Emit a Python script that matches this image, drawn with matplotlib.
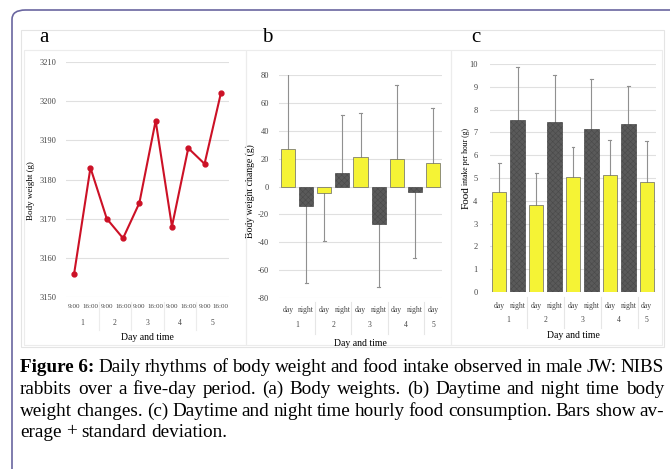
import matplotlib.pyplot as plt
from matplotlib.patches import FancyBboxPatch, Rectangle
import numpy as np

plt.rcParams['font.family'] = ['Liberation Serif', 'DejaVu Serif']
plt.rcParams['hatch.linewidth'] = 0.4
plt.rcParams['axes.unicode_minus'] = False

# data
times = ['9:00', '16:00', '9:00', '16:00', '9:00', '16:00', '9:00', '16:00', '9:00', '16:00']
days = ['1', '2', '3', '4', '5']
body_weight = [3156, 3183, 3170, 3165, 3174, 3195, 3168, 3188, 3184, 3202]

periods = ['day', 'night', 'day', 'night', 'day', 'night', 'day', 'night', 'day']
weight_change = [27, -14, -5, 10, 21, -27, 20, -4, 17]
weight_change_sd = [55, 55, 34, 41, 32, 45, 53, 47, 39]

food_intake = [4.4, 7.55, 3.83, 7.45, 5.05, 7.15, 5.15, 7.35, 4.83]
food_intake_sd = [1.25, 2.3, 1.4, 2.05, 1.3, 2.2, 1.5, 1.7, 1.8]

W, H = 670, 469
fig = plt.figure(figsize=(W / 100, H / 100), dpi=100)
renderer = fig.canvas.get_renderer()


def px_axes(left, top, right, bottom):
    return fig.add_axes([left / W, 1 - bottom / H, (right - left) / W, (bottom - top) / H])


def px(x, y):
    return x / W, 1 - y / H


# outer rounded frame and image borders
fig.patches.append(FancyBboxPatch(px(12, 480), (700 - 12) / W, (480 - 10) / H,
                                  boxstyle='round,pad=0,rounding_size=0.02',
                                  transform=fig.transFigure, fill=False,
                                  edgecolor='#6a66a0', lw=1.2, clip_on=False))
fig.patches.append(Rectangle(px(21, 347), (664 - 21) / W, (347 - 30) / H,
                             transform=fig.transFigure, fill=False, edgecolor='#e4e4e4', lw=0.8))
for l, r in [(24, 246), (246, 451), (451, 662)]:
    fig.patches.append(Rectangle(px(l, 345), (r - l) / W, (345 - 50) / H,
                                 transform=fig.transFigure, fill=False, edgecolor='#ececec', lw=0.8))

for letter, x in [('a', 44), ('b', 267), ('c', 476)]:
    fig.text(*px(x, 38), letter, fontsize=15, ha='center', va='center')

grid_c = '#e0e0e0'
yellow = '#f5f335'
dark = '#5a5a5a'

# ---- panel a
ax1 = px_axes(66, 62, 229, 297)
x1 = np.arange(len(body_weight))
ax1.plot(x1, body_weight, color='#cc1126', lw=1.5, marker='o', ms=3.5)
ax1.set_ylim(3150, 3210)
ax1.set_yticks(range(3150, 3211, 10))
ax1.set_xlim(-0.5, 9.5)
ax1.set_xticks(x1)
ax1.set_xticklabels(times, fontsize=5)
ax1.grid(axis='y', color=grid_c, lw=0.8)
ax1.set_axisbelow(True)
ax1.tick_params(axis='y', labelsize=6, length=0, pad=7, labelcolor='#444')
ax1.tick_params(axis='x', length=0, pad=5, labelcolor='#444')
for s in ax1.spines.values():
    s.set_visible(False)
for i, d in enumerate(days):
    ax1.text(2 * i + 0.5, -0.11, d, transform=ax1.get_xaxis_transform(),
             fontsize=5.5, ha='center', va='center', color='#444')
for xb in [1.5, 3.5, 5.5, 7.5]:
    ax1.plot([xb, xb], [-0.02, -0.14], transform=ax1.get_xaxis_transform(),
             color='#ececec', lw=0.8, clip_on=False)
ax1.set_ylabel('Body weight (g)', fontsize=6.5)
ax1.yaxis.set_label_coords(-0.19, 0.455)
fig.text(*px(147, 338), 'Day and time', fontsize=7, ha='center', va='center')


# ---- panels b and c
def bar_panel(ax, vals, sds, ylim, step, xpad, ypad, num_y):
    xs = np.arange(len(vals))
    cols = [yellow if p == 'day' else dark for p in periods]
    bars = ax.bar(xs, vals, width=0.78, color=cols, edgecolor='#666', lw=0.5, zorder=2)
    for b, p in zip(bars, periods):
        if p == 'night':
            b.set_hatch('xxxxxx')
            b.set_edgecolor('#4a4a4a')
    for x, v, s in zip(xs, vals, sds):
        tip = v + s if v >= 0 else v - s
        ax.plot([x, x], [v, tip], color='#909090', lw=0.8, zorder=1)
        ax.plot([x - 0.08, x + 0.08], [tip, tip], color='#909090', lw=0.8, zorder=1)
    ax.set_ylim(*ylim)
    ax.set_yticks(np.arange(ylim[0], ylim[1] + step / 2, step))
    ax.set_xlim(-0.5, len(vals) - 0.5)
    ax.set_xticks(xs)
    ax.set_xticklabels(periods, fontsize=5.5)
    ax.grid(axis='y', color=grid_c, lw=0.8, zorder=0)
    ax.set_axisbelow(True)
    ax.tick_params(axis='y', labelsize=6, length=0, pad=ypad, labelcolor='#444')
    ax.tick_params(axis='x', length=0, pad=xpad, labelcolor='#444')
    for s in ax.spines.values():
        s.set_visible(False)
    trans = ax.get_xaxis_transform()
    for i, d in enumerate(days):
        xc = 2 * i + 0.5 if i < 4 else 2 * i
        ax.text(xc, num_y, d, transform=trans, fontsize=5.5, ha='center', va='center', color='#444')
    for xb in [1.5, 3.5, 5.5, 7.5]:
        ax.plot([xb, xb], [-0.02, -0.16], transform=trans, color='#e6e6e6', lw=0.8, clip_on=False)


ax2 = px_axes(279, 75, 442, 298)
bar_panel(ax2, weight_change, weight_change_sd, (-80, 80), 20, 6, 7, -0.121)
ax2.set_ylabel('Body weight change (g)', fontsize=7)
ax2.yaxis.set_label_coords(-0.148, 0.48)
fig.text(*px(360, 343), 'Day and time', fontsize=7, ha='center', va='center')

ax3 = px_axes(490, 64, 656, 292)
bar_panel(ax3, food_intake, food_intake_sd, (0, 10), 1, 7.5, 9, -0.123)
fig.text(*px(573, 335), 'Day and time', fontsize=7, ha='center', va='center')
food = fig.text(*px(466, 209), 'Food', fontsize=8, rotation=90, rotation_mode='anchor',
                ha='left', va='center')
food_len = food.get_window_extent(renderer).height
fig.text(*px(466, 209 - food_len - 1.5), 'intake per hour (g)', fontsize=5.5, rotation=90,
         rotation_mode='anchor', ha='left', va='center')

# ---- caption, justified
lines = [
    [('Figure 6:', 'bold'), 'Daily', 'rhythms', 'of', 'body', 'weight', 'and', 'food', 'intake',
     'observed', 'in', 'male', 'JW:', 'NIBS'],
    ['rabbits', 'over', 'a', 'five-day', 'period.', '(a)', 'Body', 'weights.', '(b)', 'Daytime',
     'and', 'night', 'time', 'body'],
    ['weight', 'changes.', '(c)', 'Daytime', 'and', 'night', 'time', 'hourly', 'food',
     'consumption.', 'Bars', 'show', 'av-'],
    ['erage', '+', 'standard', 'deviation.'],
]
line_y = [367, 389, 411, 432]
x0, x1r = 20, 664
for k, (words, yy) in enumerate(zip(lines, line_y)):
    texts = []
    for w in words:
        weight = 'normal'
        if isinstance(w, tuple):
            w, weight = w
        t = fig.text(0, 1 - yy / H, w, fontsize=13.8, fontweight=weight, ha='left', va='center')
        texts.append(t)
    widths = [t.get_window_extent(renderer).width for t in texts]
    if k < len(lines) - 1:
        gap = (x1r - x0 - sum(widths)) / (len(texts) - 1)
    else:
        gap = 4.5
    xpos = x0
    for t, wd in zip(texts, widths):
        t.set_x(xpos / W)
        xpos += wd + gap

fig.savefig('out.png', dpi=100)
